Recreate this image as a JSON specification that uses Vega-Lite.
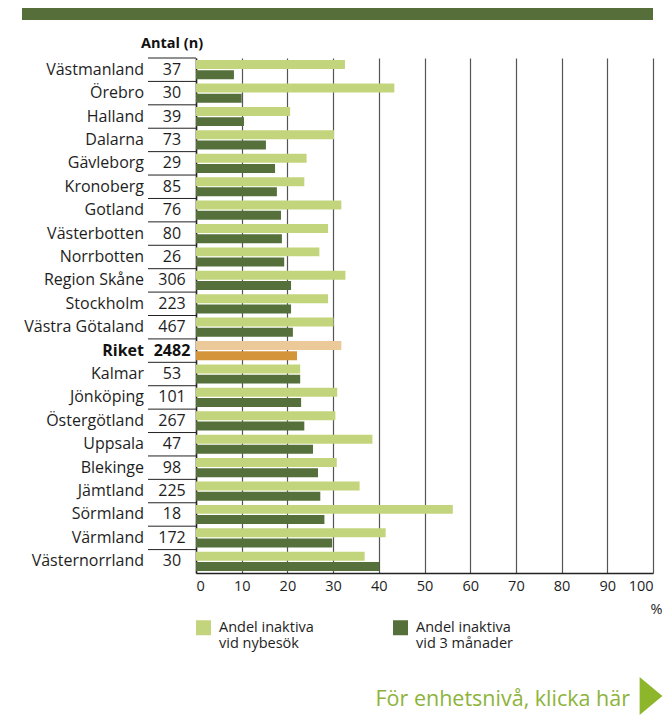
{
  "$schema": "https://vega.github.io/schema/vega-lite/v6.json",
  "padding": {"top": 8, "left": 22, "right": 4, "bottom": 0},
  "background": "white",
  "config": {"font": "Open Sans", "view": {"stroke": null}},
  "datasets": {
    "regions": [
      {"region": "Västmanland", "n": 37, "nybesok": 32.6, "m3": 8.3},
      {"region": "Örebro", "n": 30, "nybesok": 43.4, "m3": 10.0},
      {"region": "Halland", "n": 39, "nybesok": 20.6, "m3": 10.5},
      {"region": "Dalarna", "n": 73, "nybesok": 30.2, "m3": 15.3},
      {"region": "Gävleborg", "n": 29, "nybesok": 24.2, "m3": 17.3},
      {"region": "Kronoberg", "n": 85, "nybesok": 23.7, "m3": 17.7},
      {"region": "Gotland", "n": 76, "nybesok": 31.8, "m3": 18.6},
      {"region": "Västerbotten", "n": 80, "nybesok": 28.9, "m3": 18.8},
      {"region": "Norrbotten", "n": 26, "nybesok": 27.0, "m3": 19.3},
      {"region": "Region Skåne", "n": 306, "nybesok": 32.7, "m3": 20.8},
      {"region": "Stockholm", "n": 223, "nybesok": 28.9, "m3": 20.8},
      {"region": "Västra Götaland", "n": 467, "nybesok": 30.1, "m3": 21.2},
      {"region": "Riket", "n": 2482, "nybesok": 31.8, "m3": 22.1},
      {"region": "Kalmar", "n": 53, "nybesok": 22.8, "m3": 22.8},
      {"region": "Jönköping", "n": 101, "nybesok": 30.9, "m3": 23.0},
      {"region": "Östergötland", "n": 267, "nybesok": 30.5, "m3": 23.7},
      {"region": "Uppsala", "n": 47, "nybesok": 38.6, "m3": 25.6},
      {"region": "Blekinge", "n": 98, "nybesok": 30.8, "m3": 26.7},
      {"region": "Jämtland", "n": 225, "nybesok": 35.8, "m3": 27.2},
      {"region": "Sörmland", "n": 18, "nybesok": 56.2, "m3": 28.1},
      {"region": "Värmland", "n": 172, "nybesok": 41.5, "m3": 29.8},
      {"region": "Västernorrland", "n": 30, "nybesok": 36.9, "m3": 40.1}
    ]
  },
  "spacing": 16,
  "resolve": {"scale": {"color": "independent"}, "legend": {"color": "independent"}},
  "vconcat": [
    {
      "width": 631,
      "height": 12,
      "data": {"values": [{"part": "header"}]},
      "mark": {"type": "rect", "color": "#566e3a"},
      "encoding": {}
    },
    {
      "spacing": 0,
      "bounds": "flush",
      "resolve": {"scale": {"y": "independent", "color": "independent"}, "legend": {"color": "independent"}},
      "hconcat": [
        {
          "width": 126,
          "height": 515,
          "data": {"name": "regions"},
          "encoding": {
            "y": {
              "field": "region", "type": "nominal", "sort": null,
              "scale": {"paddingInner": 0, "paddingOuter": 0},
              "axis": null
            },
            "x": {"datum": 1, "type": "quantitative", "scale": {"domain": [0, 1]}, "axis": null}
          },
          "layer": [
            {
              "mark": {"type": "text", "align": "right", "dx": -4, "fontSize": 16, "color": "#1e1e1e"},
              "encoding": {"text": {"condition": {"test": "datum.region === 'Riket'", "value": ""}, "field": "region", "type": "nominal"}}
            },
            {
              "transform": [{"filter": "datum.region === 'Riket'"}],
              "mark": {"type": "text", "align": "right", "dx": -4, "fontSize": 16, "fontWeight": "bold", "color": "#111"},
              "encoding": {"text": {"field": "region", "type": "nominal"}}
            }
          ]
        },
        {
          "width": 48,
          "height": 515,
          "title": {"text": "Antal (n)", "fontSize": 14.5, "fontWeight": "bold", "anchor": "middle", "offset": 6, "color": "#111"},
          "data": {"name": "regions"},
          "encoding": {
            "y": {
              "field": "region", "type": "nominal", "sort": null,
              "scale": {"paddingInner": 0, "paddingOuter": 0},
              "axis": null
            }
          },
          "layer": [
            {
              "mark": {"type": "rule", "color": "#222", "strokeWidth": 1},
              "encoding": {"y": {"field": "region", "type": "nominal", "sort": null, "bandPosition": 0}}
            },
            {
              "mark": {"type": "text", "fontSize": 16, "color": "#1e1e1e"},
              "encoding": {"text": {"condition": {"test": "datum.region === 'Riket'", "value": ""}, "field": "n", "type": "nominal"}}
            },
            {
              "transform": [{"filter": "datum.region === 'Riket'"}],
              "mark": {"type": "text", "fontSize": 16, "fontWeight": "bold", "color": "#111"},
              "encoding": {"text": {"field": "n", "type": "nominal"}}
            }
          ]
        },
        {
          "width": 457,
          "height": 515,
          "data": {"name": "regions"},
          "transform": [{"fold": ["nybesok", "m3"], "as": ["serie", "value"]}],
          "mark": {"type": "bar"},
          "encoding": {
            "y": {
              "field": "region", "type": "nominal", "sort": null,
              "scale": {"paddingInner": 0.18, "paddingOuter": 0.09},
              "axis": {"title": null, "labels": false, "ticks": false, "domain": true, "domainColor": "#222", "domainWidth": 1.5, "grid": false}
            },
            "yOffset": {"field": "serie", "type": "nominal", "sort": ["nybesok", "m3"], "scale": {"paddingInner": 0.12}},
            "x": {
              "field": "value", "type": "quantitative",
              "scale": {"domain": [0, 100]},
              "axis": {
                "values": [0, 10, 20, 30, 40, 50, 60, 70, 80, 90, 100],
                "grid": true, "gridColor": "#555555", "gridWidth": 1.2,
                "ticks": false, "domainColor": "#222", "domainWidth": 1.5,
                "labelFontSize": 14.5, "labelColor": "#1e1e1e", "labelPadding": 6,
                "title": "%", "titleFontSize": 14.5, "titleFontWeight": "normal", "titleColor": "#1e1e1e",
                "titleAnchor": "end", "titleAlign": "right", "titleX": 466, "titlePadding": 10
              }
            },
            "color": {
              "field": "serie", "type": "nominal",
              "scale": {"domain": ["nybesok", "m3"], "range": ["#c3d57c", "#55703a"]},
              "condition": [
                {"test": "datum.region === 'Riket' && datum.serie === 'nybesok'", "value": "#ebc999"},
                {"test": "datum.region === 'Riket' && datum.serie === 'm3'", "value": "#d4943a"}
              ],
              "legend": {
                "title": null, "orient": "bottom", "direction": "horizontal",
                "symbolType": "square", "symbolSize": 225, "symbolStrokeWidth": 0,
                "labelFontSize": 14.5, "labelColor": "#1e1e1e", "labelOffset": 8,
                "labelExpr": "datum.value === 'nybesok' ? ['Andel inaktiva', 'vid nybesök'] : ['Andel inaktiva', 'vid 3 månader']",
                "columnPadding": 79, "offset": 4
              }
            }
          }
        }
      ]
    },
    {
      "width": 629,
      "height": 38,
      "data": {"values": [{"link": "För enhetsnivå, klicka här"}]},
      "layer": [
        {
          "mark": {"type": "text", "align": "right", "baseline": "middle", "fontSize": 21.5, "color": "#8db33a", "dx": -21, "dy": 4},
          "encoding": {
            "x": {"datum": 1, "type": "quantitative", "scale": {"domain": [0, 1]}, "axis": null},
            "yOffset": {"value": 10},
            "text": {"field": "link", "type": "nominal"}
          }
        },
        {
          "mark": {"type": "point", "shape": "M -0.6 -1 L 0.6 0 L -0.6 1 Z", "filled": true, "size": 1440, "color": "#8db62b", "opacity": 1},
          "encoding": {
            "x": {"datum": 1, "type": "quantitative", "scale": {"domain": [0, 1]}, "axis": null},
            "yOffset": {"value": 10}
          }
        }
      ]
    }
  ]
}
